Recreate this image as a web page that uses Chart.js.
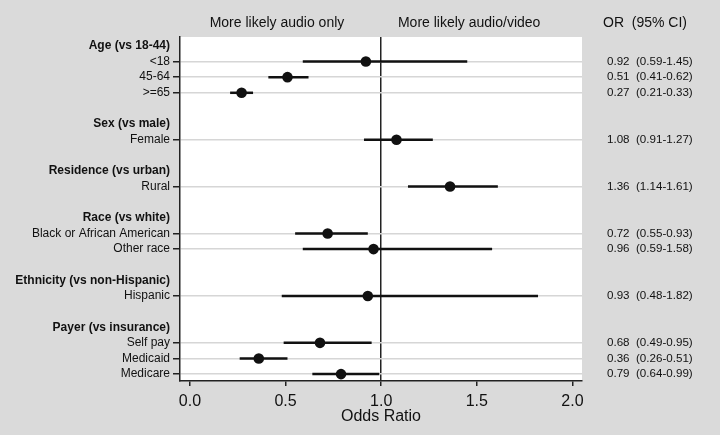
<!DOCTYPE html>
<html>
<head>
<meta charset="utf-8">
<script src="https://cdn.jsdelivr.net/npm/chart.js@4"></script>
<style>
  html, body { margin: 0; padding: 0; background: #dadada; }
  canvas { display: block; }
</style>
</head>
<body>
<canvas id="chart" width="720" height="435"></canvas>
<script>
// ===================== DATA =====================
const LABELS = ['Age (vs 18-44)', '<18', '45-64', '>=65',
  'Sex (vs male)', 'Female',
  'Residence (vs urban)', 'Rural',
  'Race (vs white)', 'Black or African American', 'Other race',
  'Ethnicity (vs non-Hispanic)', 'Hispanic',
  'Payer (vs insurance)', 'Self pay', 'Medicaid', 'Medicare'];
// row slot of each label (gaps between groups are empty rows)
const ROWS = [0, 1, 2, 3, 5, 6, 8, 9, 11, 12, 13, 15, 16, 18, 19, 20, 21];
const HEADER = [1, 0, 0, 0, 1, 0, 1, 0, 1, 0, 0, 1, 0, 1, 0, 0, 0];
const OR = [null, 0.92, 0.51, 0.27, null, 1.08, null, 1.36, null, 0.72, 0.96, null, 0.93, null, 0.68, 0.36, 0.79];
const LO = [null, 0.59, 0.41, 0.21, null, 0.91, null, 1.14, null, 0.55, 0.59, null, 0.48, null, 0.49, 0.26, 0.64];
const HI = [null, 1.45, 0.62, 0.33, null, 1.27, null, 1.61, null, 0.93, 1.58, null, 1.82, null, 0.95, 0.51, 0.99];
const X_TICKS = [0, 0.5, 1, 1.5, 2];
const REF = 1;

const FONT = "'Liberation Sans', Arial, Helvetica, sans-serif";
const INK = '#111';

const items = LABELS.map((l, i) => i).filter(i => OR[i] !== null);
const ciText = i => OR[i] === null ? '' : `${OR[i].toFixed(2)}  (${LO[i].toFixed(2)}-${HI[i].toFixed(2)})`;

// ===================== DATASETS =====================
const datasets = items.map(i => ({
  data: [{ x: LO[i], y: ROWS[i] }, { x: HI[i], y: ROWS[i] }],
  showLine: true,
  borderColor: INK,
  borderWidth: 2.5,
  pointRadius: 0,
}));
datasets.push({
  data: items.map(i => ({ x: OR[i], y: ROWS[i] })),
  pointRadius: 5.3,
  pointBackgroundColor: INK,
  pointBorderColor: INK,
  pointBorderWidth: 0,
});

// ===================== PLUGINS =====================
const backdrop = {
  id: 'backdrop',
  beforeDraw(chart) {
    const { ctx, chartArea: a } = chart;
    ctx.save();
    ctx.fillStyle = '#dadada';
    ctx.fillRect(0, 0, chart.width, chart.height);
    ctx.fillStyle = '#fff';
    ctx.fillRect(a.left, a.top, a.right - a.left, a.bottom - a.top);
    ctx.restore();
  }
};

const headings = {
  id: 'headings',
  afterDraw(chart) {
    const { ctx, chartArea: a, scales: { x } } = chart;
    ctx.save();
    ctx.fillStyle = INK;
    ctx.font = `14px ${FONT}`;
    ctx.textBaseline = 'middle';
    ctx.textAlign = 'center';
    ctx.fillText('More likely audio only', x.getPixelForValue(0.455), 23);
    ctx.fillText('More likely audio/video', x.getPixelForValue(1.46), 23);
    ctx.textAlign = 'left';
    ctx.fillText('OR  (95% CI)', a.right + 21, 23);
    ctx.restore();
  }
};

// ===================== CHART =====================
new Chart(document.getElementById('chart'), {
  type: 'scatter',
  data: { datasets },
  plugins: [backdrop, headings],
  options: {
    responsive: false,
    animation: false,
    devicePixelRatio: 1,
    layout: { padding: { top: 37, left: 0, right: 0, bottom: 0 } },
    plugins: { legend: { display: false }, tooltip: { enabled: false } },
    scales: {
      x: {
        type: 'linear',
        min: -0.052,
        max: 2.05,
        afterBuildTicks: s => { s.ticks = X_TICKS.map(v => ({ value: v })); },
        afterFit: s => { s.height = 54; },
        ticks: {
          color: INK,
          padding: 6,
          font: { family: FONT, size: 16 },
          callback: v => v.toFixed(1),
        },
        grid: {
          color: c => c.tick && c.tick.value === REF ? '#222' : 'rgba(0,0,0,0)',
          lineWidth: 1.5,
          tickColor: '#222',
          tickLength: 5,
        },
        border: { color: '#222', width: 1.5 },
        title: {
          display: true,
          text: 'Odds Ratio',
          color: INK,
          font: { family: FONT, size: 16 },
          padding: { top: 0, bottom: 9 },
        },
      },
      y: {
        type: 'linear',
        position: 'left',
        reverse: true,
        min: -0.57,
        max: 21.44,
        afterBuildTicks: s => { s.ticks = ROWS.map(v => ({ value: v })); },
        afterFit: s => { s.width = 180; },
        ticks: {
          color: INK,
          padding: 3,
          font: c => ({ family: FONT, size: 12, weight: HEADER[c.index] ? 'bold' : 'normal' }),
          callback: (v, i) => LABELS[i],
        },
        grid: {
          color: c => c.tick && HEADER[c.index] ? 'rgba(0,0,0,0)' : '#d6d6d6',
          lineWidth: 1.5,
          tickColor: c => HEADER[c.index] ? 'rgba(0,0,0,0)' : '#222',
          tickLength: 7,
        },
        border: { color: '#222', width: 1.5 },
      },
      yR: {
        type: 'linear',
        position: 'right',
        reverse: true,
        min: -0.57,
        max: 21.44,
        afterBuildTicks: s => { s.ticks = ROWS.map(v => ({ value: v })); },
        afterFit: s => { s.width = 138; },
        ticks: {
          color: INK,
          padding: 25,
          font: { family: FONT, size: 11.6 },
          callback: (v, i) => ciText(i),
        },
        grid: { drawOnChartArea: false, drawTicks: false },
        border: { display: false },
      },
    },
  },
});
</script>
</body>
</html>
